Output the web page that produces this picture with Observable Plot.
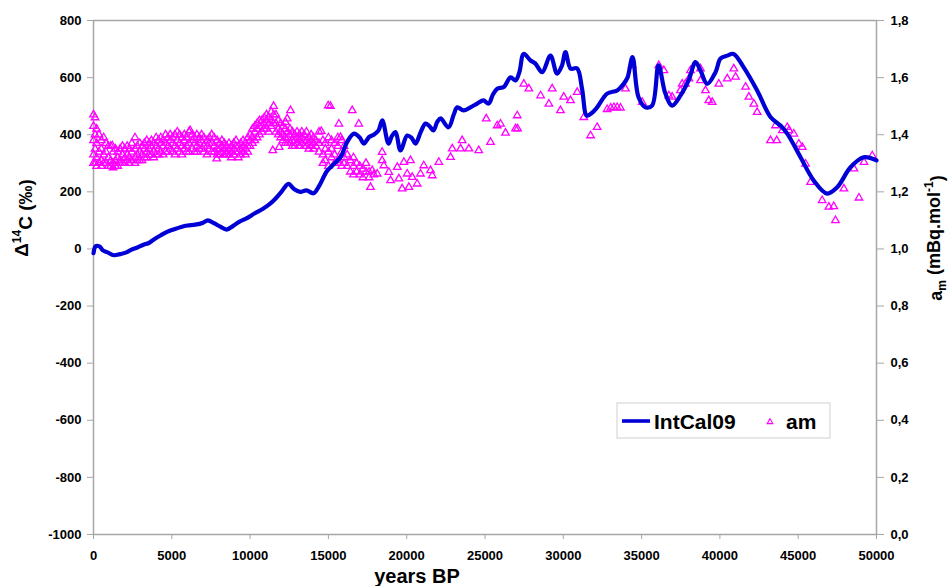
<!DOCTYPE html>
<html>
<head>
<meta charset="utf-8">
<script src="https://cdn.jsdelivr.net/npm/d3@7"></script>
<script src="https://cdn.jsdelivr.net/npm/@observablehq/plot@0.6"></script>
<style>
  html, body { margin: 0; padding: 0; background: #fff; }
  #chart { position: relative; width: 950px; height: 586px; }
</style>
</head>
<body>
<div id="chart"></div>
<script>
// ---------- DATA ----------
const xTicks = [0, 5000, 10000, 15000, 20000, 25000, 30000, 35000, 40000, 45000, 50000];
const yTicksLeft = [-1000, -800, -600, -400, -200, 0, 200, 400, 600, 800];
const rightTickLabels = ["0,0", "0,2", "0,4", "0,6", "0,8", "1,0", "1,2", "1,4", "1,6", "1,8"];

// IntCal09 Δ14C (‰) vs years BP
const intcalYears = [0,150,400,600,900,1300,1700,2100,2400,2800,3200,3500,3900,4300,4700,5100,5600,6000,6500,7000,7300,7700,8100,8500,8900,9300,9800,10300,10800,11200,11600,12000,12450,12800,13200,13600,14050,14400,14900,15300,15770,16200,16630,17000,17260,17600,17900,18200,18440,18840,19050,19290,19600,20030,20300,20560,20900,21200,21450,21710,21950,22160,22670,23000,23230,23630,24070,24500,24900,25230,25500,25780,26200,26630,26950,27200,27470,27910,28220,28650,29180,29600,29900,30140,30460,30880,31200,31500,31800,32160,32800,33440,33850,34100,34420,34800,35250,35670,36080,36520,36950,37480,38000,38440,38760,39190,39720,40040,40470,40870,41510,42380,43230,43870,44300,45150,45990,46850,47490,48340,49180,50000];
const intcalValues = [-15,10,8,-5,-12,-22,-18,-12,-3,5,15,20,35,48,60,68,77,82,85,92,100,90,78,68,80,95,108,125,140,155,175,200,228,210,200,205,195,220,272,295,321,375,404,390,369,392,400,415,450,369,395,409,345,397,390,369,410,439,430,415,445,457,426,470,496,485,496,509,520,509,540,561,567,601,590,620,683,660,649,619,677,614,640,689,632,632,560,467,475,496,544,555,578,600,672,532,496,502,643,544,502,537,590,654,625,578,619,667,677,683,637,555,462,432,404,321,240,194,216,286,321,310];

// am (mBq/mol) measurements: [years BP, am]
const amPoints = [
[0,1.47],[0,1.43],[0,1.38],[0,1.33],[0,1.30],
[100,1.46],[100,1.40],[100,1.35],[100,1.30],
[200,1.42],[200,1.37],[200,1.32],[200,1.29],
[350,1.40],[350,1.34],[350,1.30],
[500,1.38],[500,1.35],[500,1.31],[500,1.29],
[650,1.39],[650,1.33],[650,1.30],
[800,1.37],[800,1.34],[800,1.30],
[950,1.36],[950,1.32],[950,1.29],
[1100,1.36],[1100,1.31],[1100,1.29],[1200,1.362],
[1250,1.34],[1250,1.30],[1250,1.285],
[1400,1.35],[1400,1.31],[1400,1.29],
[1550,1.34],[1550,1.32],[1550,1.29],
[1700,1.35],[1700,1.31],[1700,1.30],
[1850,1.36],[1850,1.33],[1850,1.30],
[2000,1.35],[2000,1.32],[2000,1.30],
[2150,1.36],[2150,1.33],[2150,1.31],
[2300,1.35],[2300,1.32],[2300,1.30],
[2450,1.37],[2450,1.34],[2450,1.31],
[2650,1.39],[2650,1.35],[2650,1.32],[2650,1.30],
[2800,1.36],[2800,1.33],[2800,1.31],
[2950,1.37],[2950,1.34],[2950,1.31],
[3100,1.36],[3100,1.33],[3100,1.31],
[3250,1.37],[3250,1.35],[3250,1.32],
[3400,1.38],[3400,1.34],[3400,1.32],
[3550,1.37],[3550,1.35],[3550,1.33],
[3700,1.38],[3700,1.36],[3700,1.33],
[3850,1.37],[3850,1.34],[3850,1.32],
[4000,1.39],[4000,1.36],[4000,1.33],
[4150,1.38],[4150,1.35],[4150,1.33],
[4300,1.39],[4300,1.37],[4300,1.34],
[4450,1.38],[4450,1.36],[4450,1.33],
[4600,1.40],[4600,1.37],[4600,1.34],
[4750,1.39],[4750,1.36],[4750,1.34],
[4900,1.40],[4900,1.38],[4900,1.35],
[5050,1.39],[5050,1.37],[5050,1.34],
[5200,1.40],[5200,1.36],[5200,1.33],
[5350,1.41],[5350,1.38],[5350,1.35],
[5500,1.40],[5500,1.37],[5500,1.34],
[5650,1.39],[5650,1.36],[5650,1.33],
[5800,1.40],[5800,1.38],[5800,1.35],
[5950,1.39],[5950,1.36],[5950,1.34],
[6100,1.41],[6100,1.37],[6100,1.34],[6170,1.415],
[6300,1.40],[6300,1.38],[6300,1.35],
[6450,1.39],[6450,1.37],[6450,1.34],
[6600,1.40],[6600,1.36],[6600,1.34],
[6750,1.39],[6750,1.37],[6750,1.35],
[6900,1.40],[6900,1.38],[6900,1.35],
[7050,1.39],[7050,1.36],[7050,1.34],
[7250,1.38],[7250,1.36],[7250,1.33],
[7400,1.39],[7400,1.37],[7400,1.35],
[7550,1.40],[7550,1.37],[7550,1.34],
[7700,1.39],[7700,1.36],[7700,1.34],[7870,1.316],
[7900,1.38],[7900,1.35],[7900,1.33],
[8050,1.37],[8050,1.35],[8050,1.33],
[8200,1.38],[8200,1.36],[8200,1.34],
[8350,1.37],[8350,1.35],[8350,1.33],
[8500,1.36],[8500,1.34],[8500,1.33],
[8650,1.37],[8650,1.35],[8650,1.33],
[8800,1.36],[8800,1.34],[8800,1.32],
[8950,1.37],[8950,1.35],[8950,1.33],
[9100,1.38],[9100,1.36],[9100,1.34],
[9250,1.36],[9250,1.34],[9250,1.32],
[9400,1.37],[9400,1.35],[9400,1.33],
[9550,1.38],[9550,1.36],[9550,1.34],
[9700,1.37],[9700,1.35],[9700,1.33],
[9850,1.39],[9850,1.36],[9850,1.34],
[10000,1.40],[10000,1.38],[10000,1.36],
[10150,1.42],[10150,1.39],[10150,1.37],
[10300,1.43],[10300,1.41],[10300,1.38],
[10450,1.44],[10450,1.42],[10450,1.39],
[10600,1.45],[10600,1.43],[10600,1.40],
[10750,1.45],[10750,1.43],[10750,1.41],
[10900,1.46],[10900,1.44],[10900,1.42],
[11050,1.47],[11050,1.45],[11050,1.42],
[11200,1.46],[11200,1.44],[11200,1.41],
[11350,1.48],[11350,1.45],[11350,1.43],[11450,1.345],
[11500,1.50],[11500,1.47],[11500,1.44],
[11650,1.47],[11650,1.44],[11650,1.41],
[11800,1.45],[11800,1.42],[11800,1.40],[11860,1.356],
[11950,1.44],[11950,1.41],[11950,1.39],
[12100,1.43],[12100,1.40],[12100,1.38],
[12250,1.42],[12250,1.39],[12250,1.37],[12260,1.444],[12370,1.456],
[12400,1.41],[12400,1.39],[12400,1.37],
[12550,1.42],[12550,1.40],[12550,1.37],[12580,1.485],
[12700,1.41],[12700,1.38],[12700,1.36],
[12850,1.40],[12850,1.38],[12850,1.36],
[13000,1.41],[13000,1.39],[13000,1.37],
[13150,1.40],[13150,1.38],[13150,1.36],
[13300,1.41],[13300,1.39],[13300,1.37],
[13450,1.40],[13450,1.38],[13450,1.36],
[13600,1.41],[13600,1.38],[13600,1.36],
[13750,1.39],[13750,1.37],[13750,1.35],
[13900,1.40],[13900,1.38],[13900,1.36],
[14050,1.39],[14050,1.37],[14050,1.35],
[14200,1.38],[14200,1.36],
[14400,1.41],[14400,1.37],[14400,1.34],[14540,1.412],
[14650,1.38],[14650,1.33],[14650,1.30],
[14800,1.37],[14800,1.35],[14800,1.31],
[14990,1.502],[15000,1.39],[15000,1.34],[15000,1.29],[15130,1.50],
[15200,1.38],[15200,1.35],[15200,1.32],
[15400,1.37],[15400,1.33],[15400,1.30],
[15600,1.39],[15600,1.36],[15600,1.31],[15670,1.438],[15770,1.391],
[15850,1.38],[15850,1.34],[15850,1.29],
[16000,1.36],[16000,1.32],[16000,1.30],
[16200,1.33],[16200,1.29],
[16400,1.31],[16400,1.27],[16520,1.485],
[16600,1.32],[16600,1.29],[16600,1.26],
[16800,1.30],[16800,1.27],[16940,1.438],
[17000,1.29],[17000,1.26],
[17200,1.28],[17200,1.25],
[17400,1.30],[17400,1.27],
[17600,1.27],[17600,1.25],[17690,1.216],
[17800,1.275],[17900,1.26],[18120,1.263],
[18430,1.339],[18430,1.310],[18540,1.292],[18860,1.269],[18970,1.240],
[19400,1.286],[19500,1.246],[19710,1.211],[19820,1.304],[20030,1.263],
[20140,1.216],[20240,1.310],[20350,1.251],[20670,1.228],[20880,1.263],
[21090,1.292],[21520,1.275],[21630,1.257],[22050,1.304],[22800,1.321],
[22910,1.351],[23440,1.351],[23540,1.380],[23970,1.351],[24600,1.345],
[25080,1.456],[25350,1.374],[25780,1.432],[25990,1.438],[26310,1.406],
[26950,1.421],[27060,1.467],[27080,1.421],[27480,1.578],[27800,1.561],
[28550,1.537],[29080,1.508],[29290,1.561],[29820,1.485],[30030,1.532],
[30460,1.520],[30890,1.549],[31310,1.461],[31740,1.397],[32160,1.426],
[32800,1.489],[33030,1.494],[33230,1.496],[33440,1.496],[33650,1.494],
[33970,1.561],[34400,1.643],[35040,1.514],[36100,1.643],[36420,1.625],
[36740,1.537],[36950,1.532],[37480,1.555],[37590,1.578],[37800,1.578],
[38020,1.596],[38120,1.625],[38760,1.631],[38760,1.590],[39080,1.555],
[39290,1.520],[39510,1.514],[39930,1.578],[40470,1.596],[40890,1.631],
[41000,1.602],[41640,1.567],[41850,1.532],[42170,1.508],[42380,1.479],
[43230,1.380],[43550,1.432],[43630,1.380],[43990,1.415],[44300,1.426],
[44410,1.415],[44720,1.403],[45040,1.368],[45260,1.356],[45470,1.298],
[45790,1.234],[46530,1.170],[46960,1.147],[47270,1.149],[47380,1.100],
[47920,1.211],[48560,1.281],[48880,1.179],[49200,1.304],[49730,1.327]
];

const seriesNames = ["IntCal09", "am"];

// ---------- BUILD ----------
const intcal = intcalYears.map((x, i) => ({x, y: intcalValues[i]}));
// right axis a_m maps onto left axis: Δ = (a_m - 1) * 1000
const am = amPoints.map(([x, a]) => ({x, y: (a - 1) * 1000}));

const blue = "#0000d6";
const magenta = "#ff00ff";
const grey = "#a6a6a6";

const plot = Plot.plot({
  width: 950,
  height: 586,
  marginLeft: 93,
  marginRight: 74,
  marginTop: 20,
  marginBottom: 52,
  style: {fontFamily: "'Liberation Sans', Arial, sans-serif", fontSize: "13px", fontWeight: "bold", background: "white", overflow: "visible"},
  x: {domain: [0, 50000]},
  y: {domain: [-1000, 800]},
  marks: [
    Plot.frame({stroke: grey, strokeWidth: 1.5}),
    Plot.axisX({ticks: xTicks, tickSize: 5, stroke: grey, fill: "black", tickPadding: 11, tickFormat: d => String(d), label: null}),
    Plot.axisY({ticks: yTicksLeft, anchor: "left", tickSize: 6, stroke: grey, fill: "black", tickPadding: 6, tickFormat: d => String(d), label: null}),
    Plot.axisY({ticks: yTicksLeft, anchor: "right", tickSize: 7, stroke: grey, fill: "black", tickPadding: 7,
      tickFormat: (d) => rightTickLabels[yTicksLeft.indexOf(d)], label: null}),
    Plot.dot(am, {x: "x", y: "y", symbol: "triangle", r: 2.8, stroke: magenta, strokeWidth: 1.3, fill: "none"}),
    Plot.line(intcal, {x: "x", y: "y", stroke: blue, strokeWidth: 4.2, curve: "catmull-rom"})
  ]
});

document.getElementById("chart").appendChild(plot);

// ---------- TITLES & LEGEND ----------
const svg = d3.select(plot);
const font = "'Liberation Sans', Arial, sans-serif";

// left axis title
const lt = svg.append("text")
  .attr("transform", "translate(28,218) rotate(-90)")
  .attr("text-anchor", "middle")
  .style("font-family", font).style("font-weight", "bold").style("font-size", "19px").attr("fill", "black");
lt.append("tspan").text("Δ");
lt.append("tspan").attr("dy", "-0.55em").style("font-size", "12px").text("14");
lt.append("tspan").attr("dy", "0.55em").text("C (‰)");

// right axis title
const rt = svg.append("text")
  .attr("transform", "translate(942,238) rotate(-90)")
  .attr("text-anchor", "middle")
  .style("font-family", font).style("font-weight", "bold").style("font-size", "18px").attr("fill", "black");
rt.append("tspan").text("a");
rt.append("tspan").attr("dy", "0.35em").style("font-size", "12px").text("m");
rt.append("tspan").attr("dy", "-0.35em").text(" (mBq.mol");
rt.append("tspan").attr("dy", "-0.55em").style("font-size", "12px").text("-1");
rt.append("tspan").attr("dy", "0.55em").text(")");

// x axis title
svg.append("text")
  .attr("x", 417).attr("y", 583)
  .attr("text-anchor", "middle")
  .style("font-family", font).style("font-weight", "bold").style("font-size", "20px").attr("fill", "black")
  .text("years BP");

// legend
const lg = svg.append("g").attr("text-anchor", "start");
lg.append("rect").attr("x", 617).attr("y", 403).attr("width", 213).attr("height", 35)
  .attr("fill", "white").attr("stroke", "#d0d0d0").attr("stroke-width", 1);
lg.append("line").attr("x1", 622).attr("x2", 650).attr("y1", 421).attr("y2", 421)
  .attr("stroke", blue).attr("stroke-width", 3.6);
lg.append("text").attr("x", 654).attr("y", 428.5).attr("text-anchor", "start")
  .style("font-family", font).style("font-weight", "bold").style("font-size", "21px").attr("fill", "black")
  .text(seriesNames[0]);
lg.append("path").attr("d", d3.symbol(d3.symbolTriangle, 14)())
  .attr("transform", "translate(770,422)")
  .attr("fill", "none").attr("stroke", magenta).attr("stroke-width", 1.1);
lg.append("text").attr("x", 786).attr("y", 428.5).attr("text-anchor", "start")
  .style("font-family", font).style("font-weight", "bold").style("font-size", "21px").attr("fill", "black")
  .text(seriesNames[1]);
</script>
</body>
</html>
